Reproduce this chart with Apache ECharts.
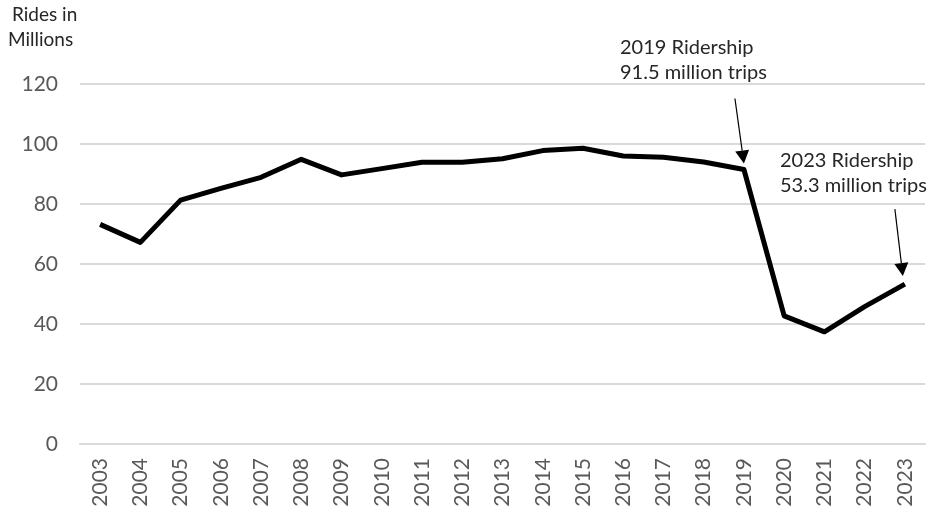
<!DOCTYPE html>
<html>
<head>
<meta charset="utf-8">
<script src="https://cdn.jsdelivr.net/npm/echarts@6/dist/echarts.min.js"></script>
<style>
html,body{margin:0;padding:0;background:#fff;}
#chart{width:927px;height:512px;}
</style>
</head>
<body>
<div id="chart"></div>
<script>
var years = ['2003','2004','2005','2006','2007','2008','2009','2010','2011','2012','2013','2014','2015','2016','2017','2018','2019','2020','2021','2022','2023'];
var rides = [73.2, 67.2, 81.3, 85.2, 88.9, 94.9, 89.7, 91.8, 93.9, 93.9, 95.1, 97.8, 98.6, 96.0, 95.6, 94.0, 91.5, 42.7, 37.4, 45.8, 53.3];
var yTicks = [0, 20, 40, 60, 80, 100, 120];
var notes = [
  {year: '2019', lines: ['2019 Ridership', '91.5 million trips']},
  {year: '2023', lines: ['2023 Ridership', '53.3 million trips']}
];

var FONT = 'Lato';
var chart = echarts.init(document.getElementById('chart'));
chart.setOption({
  animation: false,
  backgroundColor: '#ffffff',
  grid: {left: 80, right: 2, top: 84, bottom: 68, containLabel: false},
  xAxis: {
    type: 'category',
    data: years,
    boundaryGap: true,
    axisLine: {lineStyle: {color: '#d9d9d9', width: 2}},
    axisTick: {show: false},
    axisLabel: {rotate: 90, fontSize: 21, color: '#595959', fontFamily: FONT, margin: 14, interval: 0}
  },
  yAxis: {
    type: 'value',
    min: yTicks[0],
    max: yTicks[yTicks.length - 1],
    interval: 20,
    axisLine: {show: false},
    axisTick: {show: false},
    splitLine: {lineStyle: {color: '#d9d9d9', width: 2}},
    axisLabel: {fontSize: 21, color: '#595959', fontFamily: FONT, margin: 22}
  },
  series: [{
    type: 'line',
    data: rides,
    symbol: 'none',
    lineStyle: {color: '#000000', width: 5, join: 'round'}
  }]
});

function place() {
  var g = [];
  g.push({type: 'text', x: 12, y: 5, style: {text: 'Rides in', fontSize: 19, fontFamily: FONT, fill: '#262626'}});
  g.push({type: 'text', x: 8, y: 30, style: {text: 'Millions', fontSize: 19, fontFamily: FONT, fill: '#262626'}});
  var cfg = [
    {tipOff: [0, -6], startOff: [-9, -71], textPos: [620, 35]},
    {tipOff: [-2, -8], startOff: [-10, -75], textPos: [780, 148]}
  ];
  notes.forEach(function (n, i) {
    var idx = years.indexOf(n.year);
    var p = chart.convertToPixel({seriesIndex: 0}, [idx, rides[idx]]);
    var c = cfg[i];
    var tip = [p[0] + c.tipOff[0], p[1] + c.tipOff[1]];
    var st = [p[0] + c.startOff[0], p[1] + c.startOff[1]];
    var ang = Math.atan2(tip[1] - st[1], tip[0] - st[0]);
    var L = 13, W = 7;
    var bx = tip[0] - L * Math.cos(ang), by = tip[1] - L * Math.sin(ang);
    var px = -Math.sin(ang) * W, py = Math.cos(ang) * W;
    g.push({type: 'line', shape: {x1: st[0], y1: st[1], x2: bx, y2: by}, style: {stroke: '#000', lineWidth: 1.2}});
    g.push({type: 'polygon', shape: {points: [tip, [bx + px, by + py], [bx - px, by - py]]}, style: {fill: '#000'}});
    g.push({type: 'text', x: c.textPos[0], y: c.textPos[1], style: {text: n.lines.join('\n'), fontSize: 20, fontFamily: FONT, fill: '#262626', lineHeight: 25}});
  });
  chart.setOption({graphic: g});
}
place();
</script>
</body>
</html>
